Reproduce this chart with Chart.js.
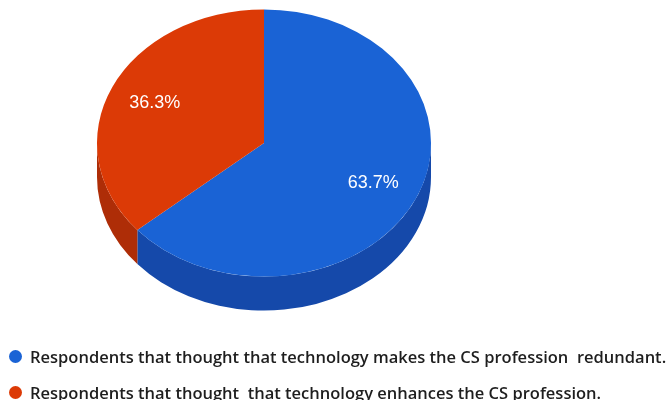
<!DOCTYPE html>
<html>
<head>
<meta charset="utf-8">
<script src="https://cdn.jsdelivr.net/npm/chart.js@4"></script>
<style>
  html, body { margin: 0; padding: 0; background: #ffffff; }
  #wrap { position: relative; width: 667px; height: 400px; }
  #legend { position: absolute; left: 9px; top: 344px; font-family: "Open Sans", sans-serif; font-weight: 600; font-size: 16.5px; color: #1e1e1e; white-space: pre; }
  #legend .row { display: flex; align-items: center; height: 24px; margin-bottom: 12px; }
  #legend .dot { width: 13px; height: 13px; border-radius: 50%; margin-right: 8px; flex: none; }
</style>
</head>
<body>
<div id="wrap">
  <canvas id="c"></canvas>
  <div id="legend"></div>
</div>
<script>
// Survey answers (percent of respondents)
const categories = [
  'Respondents that thought that technology makes the CS profession  redundant.',
  'Respondents that thought  that technology enhances the CS profession.'
];
const shares = [63.7, 36.3];
const topColors = ['#1a63d5', '#dc3a06'];
const sideColors = ['#1549aa', '#ae2d07'];

// Perspective settings for the tilted disc
const TILT = 0.8;      // vertical squash of the top face
const DEPTH = 34;      // thickness of the disc in pixels
const LABEL_POS = 0.72; // label distance as a fraction of the radius

const tiltPlugin = {
  id: 'tiltedPie',
  beforeDatasetsDraw(chart) {
    const ctx = chart.ctx;
    const arcs = chart.getDatasetMeta(0).data;
    // Draw the visible rim (front half) of each slice below the top face
    arcs.forEach((arc, i) => {
      const { x, y, outerRadius: r, startAngle, endAngle } = arc;
      const ry = r * TILT;
      const twoPi = Math.PI * 2;
      const segs = [];
      for (let k = -1; k <= 1; k++) {
        const s = Math.max(startAngle, k * twoPi), e = Math.min(endAngle, k * twoPi + Math.PI);
        if (e > s) segs.push([s, e]);
      }
      segs.forEach(([s, e]) => {
        ctx.save();
        ctx.beginPath();
        ctx.ellipse(x, y, r, ry, 0, s, e, false);
        ctx.ellipse(x, y + DEPTH, r, ry, 0, e, s, true);
        ctx.closePath();
        ctx.fillStyle = sideColors[i];
        ctx.fill();
        ctx.restore();
      });
    });
    // Squash the slices into an ellipse
    const { x, y } = arcs[0];
    ctx.save();
    ctx.translate(x, y);
    ctx.scale(1, TILT);
    ctx.translate(-x, -y);
  },
  afterDatasetsDraw(chart) {
    const ctx = chart.ctx;
    ctx.restore();
    const arcs = chart.getDatasetMeta(0).data;
    ctx.save();
    ctx.font = '18px "Liberation Sans", Arial, sans-serif';
    ctx.fillStyle = '#ffffff';
    ctx.textAlign = 'center';
    ctx.textBaseline = 'middle';
    arcs.forEach((arc, i) => {
      const { x, y, outerRadius: r, startAngle, endAngle } = arc;
      const mid = (startAngle + endAngle) / 2;
      const lx = x + Math.cos(mid) * r * LABEL_POS;
      const ly = y + Math.sin(mid) * r * TILT * LABEL_POS;
      ctx.fillText(shares[i].toFixed(1) + '%', lx, ly);
    });
    ctx.restore();
  }
};

new Chart(document.getElementById('c'), {
  type: 'pie',
  data: {
    labels: categories,
    datasets: [{
      data: shares,
      backgroundColor: topColors,
      borderWidth: 0,
      radius: 167,
      clip: false
    }]
  },
  options: {
    responsive: true,
    maintainAspectRatio: false,
    animation: false,
    layout: { padding: { left: 0, top: 0, right: 139, bottom: 114 } },
    plugins: {
      legend: { display: false },
      tooltip: { enabled: false }
    }
  },
  plugins: [tiltPlugin]
});

// Legend built from the same categories and colours
const legend = document.getElementById('legend');
categories.forEach((label, i) => {
  const row = document.createElement('div');
  row.className = 'row';
  const dot = document.createElement('span');
  dot.className = 'dot';
  dot.style.background = topColors[i];
  const txt = document.createElement('span');
  txt.textContent = label;
  row.appendChild(dot);
  row.appendChild(txt);
  legend.appendChild(row);
});
</script>
</body>
</html>
